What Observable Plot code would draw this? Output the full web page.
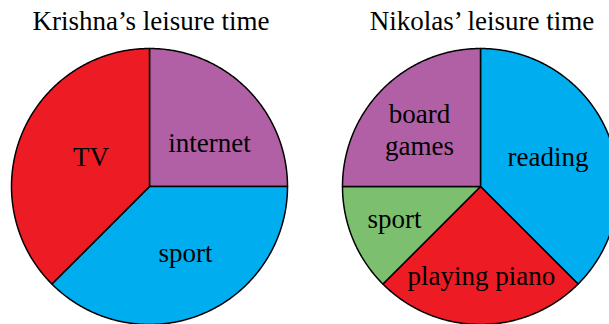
<!DOCTYPE html>
<html>
<head>
<meta charset="utf-8">
<script src="https://cdn.jsdelivr.net/npm/d3@7"></script>
<script src="https://cdn.jsdelivr.net/npm/@observablehq/plot@0.6"></script>
<style>
  html, body { margin: 0; padding: 0; background: #fff; }
</style>
</head>
<body>
<div id="chart"></div>
<script>
// ---- data ----
const titles = ["Krishna’s leisure time", "Nikolas’ leisure time"];

const krishnaActivities = ["internet", "sport", "TV"];
const krishnaShares = [25, 37.5, 37.5];            // percent of leisure time
const krishnaColors = ["#B160A6", "#00AEEF", "#ED1C24"];

const nikolasActivities = ["reading", "playing piano", "sport", "board\ngames"];
const nikolasShares = [37.5, 25, 12.5, 25];        // percent of leisure time
const nikolasColors = ["#00AEEF", "#ED1C24", "#7CBF6E", "#B160A6"];

// label placement within each slice: [angle from 12 o'clock (deg, clockwise), radius fraction]
const krishnaLabelPlacement = [[55, 0.53], [152, 0.557], [295.6, 0.47]];
const nikolasLabelPlacement = [[67.5, 0.53], [179.4, 0.66], [248.4, 0.67], [312, 0.595]];

// ---- layout (in pie-radius units) ----
const W = 609, H = 324, R = 138;
const pies = [
  {cx: 0, cy: 0, names: krishnaActivities, values: krishnaShares, colors: krishnaColors, place: krishnaLabelPlacement, title: titles[0]},
  {cx: 331 / R, cy: 0, names: nikolasActivities, values: nikolasShares, colors: nikolasColors, place: nikolasLabelPlacement, title: titles[1]}
];

const pieGen = d3.pie().sort(null).value(d => d.value);
const marks = [];
const labels = [];
const titleRows = [];

pies.forEach((p, pi) => {
  const rows = p.names.map((n, i) => ({name: n, value: p.values[i], color: p.colors[i]}));
  const arcs = pieGen(rows);
  arcs.forEach((a, i) => {
    const pts = [{x: p.cx, y: p.cy}];
    const steps = Math.max(2, Math.ceil((a.endAngle - a.startAngle) / (Math.PI / 360)));
    for (let k = 0; k <= steps; k++) {
      const t = a.startAngle + (a.endAngle - a.startAngle) * k / steps;
      pts.push({x: p.cx + Math.sin(t), y: p.cy + Math.cos(t)});
    }
    pts.push({x: p.cx, y: p.cy});
    marks.push(Plot.line(pts, {x: "x", y: "y", fill: a.data.color, stroke: "black", strokeWidth: 1.5, strokeLinejoin: "round"}));
    const [ang, rf] = p.place[i];
    const t = ang * Math.PI / 180;
    labels.push({x: p.cx + rf * Math.sin(t), y: p.cy + rf * Math.cos(t), text: a.data.name});
  });
  titleRows.push({x: p.cx + 1.5 / R, y: p.cy + 164 / R, text: p.title});
});

const chart = Plot.plot({
  width: W,
  height: H,
  margin: 0,
  x: {domain: [-149 / R, (W - 149) / R], range: [0, W], axis: null},
  y: {domain: [-(H - 186) / R, 186 / R], range: [H, 0], axis: null},
  style: {fontFamily: "'Liberation Serif', 'Times New Roman', serif", background: "white", overflow: "hidden"},
  marks: [
    ...marks,
    Plot.text(labels, {x: "x", y: "y", text: "text", fontSize: 27, fill: "black", lineHeight: 1.19, dy: -2.5}),
    Plot.text(titleRows, {x: "x", y: "y", text: "text", fontSize: 27, fill: "black", dy: -1})
  ]
});
document.getElementById("chart").appendChild(chart);
</script>
</body>
</html>
